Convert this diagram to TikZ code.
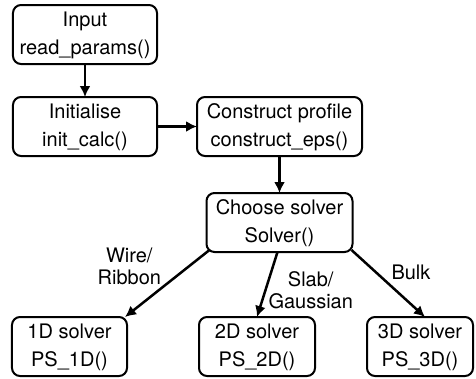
\documentclass[tikz,border=0pt]{standalone}
\usepackage{fontspec}
\setmainfont{TeX Gyre Heros}
\usetikzlibrary{arrows.meta}
\usetikzlibrary{positioning}
\tikzset{
    block/.style={
           rectangle,
           rounded corners=8pt,
           draw=black, line width=2pt,
           minimum height=59pt,
           inner sep=0pt,
           outer sep=0pt,
           text centered,
           },
    branch/.style={
           %rectangle,
           %draw=black,
           font=\fontsize{20}{22}\selectfont,
           align=center,
           inner sep=2pt,
           },
    flow/.style={
           -{Latex[length=11pt,width=11pt]},
           line width=2.5pt,
           },
}

\begin{document}
\begin{tikzpicture}[auto, font=\fontsize{20}{28}\selectfont, node distance=33pt and 40pt]
	\node[block, minimum width=144pt] (input) {
		\begin{tabular}{c}
		Input\\
		read\_params()
		\end{tabular}
	};
	
	\node[block, below=of input, minimum width=144pt] (init) {
		\begin{tabular}{c}
		Initialise\\
		init\_calc()
		\end{tabular}
	};
	
	\node[block, right=of init, minimum width=165pt] (profile) {
		\begin{tabular}{c}
		Construct profile\\
		construct\_eps()
		\end{tabular}
	};
	
	\node[block, below=37pt of profile, minimum width=146pt] (choose) {
		\begin{tabular}{c}
		Choose solver\\
		Solver()
		\end{tabular}
	};
	
	\node[block, below=65pt of choose, xshift=-22.5pt, minimum width=116pt] (solver2) {
		\begin{tabular}{c}
		2D solver\\
		PS\_2D()
		\end{tabular}
	};
	\node[block, left=72pt of solver2, minimum width=115pt] (solver1) {
		\begin{tabular}{c}
		1D solver\\
		PS\_1D()
		\end{tabular}
	};
	\node[block, right=52pt of solver2, minimum width=106pt] (solver3) {
		\begin{tabular}{c}
		3D solver\\
		PS\_3D()
		\end{tabular}
	};
	
	
	\path[flow]	(input) edge (init)
				(init) edge (profile)
				(profile) edge (choose);
	
	\path[flow]	([xshift=3pt,yshift=2pt]choose.south west) edge node[branch, above left, yshift=-5pt, xshift=-3pt] {Wire/\\Ribbon} ([xshift=-2pt]solver1.north east)
				([xshift=-2pt]choose.south) edge node[branch, right, yshift=-6pt, xshift=-2pt] {Slab/\\Gaussian} (solver2.north)
				([xshift=-1pt,yshift=2pt]choose.south east) edge node[branch, above right] {Bulk} ([xshift=5pt]solver3.north);
	
	\pgfresetboundingbox
	\useasboundingbox ([shift={(-13pt,5pt)}]input.north west) rectangle ++(476pt,-378pt);
\end{tikzpicture}
\end{document}
